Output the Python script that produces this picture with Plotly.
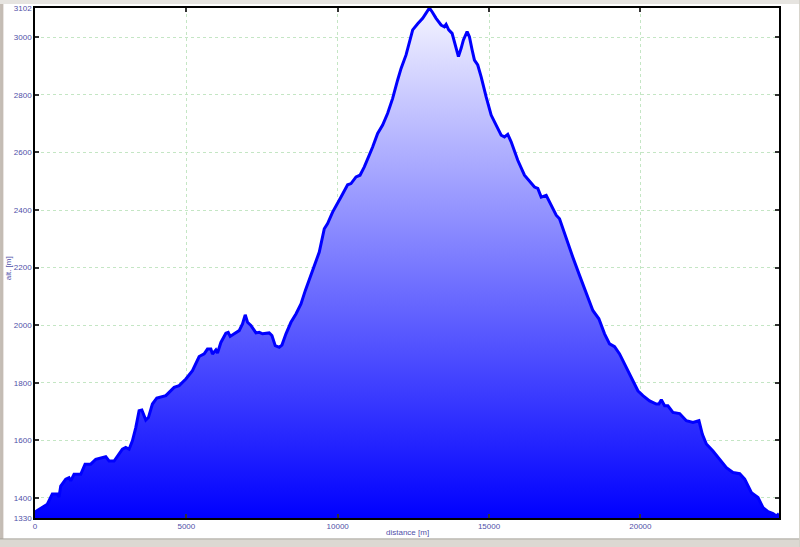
import plotly.graph_objects as go

# Elevation profile data (distance in m, altitude in m)
dist = [0, 241, 407, 572, 737, 794, 850, 1015, 1124, 1181, 1290, 1511, 1654, 1842, 2007,
        2338, 2447, 2613, 2778, 2887, 2999, 3109, 3218, 3330, 3439, 3529, 3661, 3747, 3879,
        4025, 4322, 4597, 4762, 4984, 5202, 5423, 5589, 5698, 5810, 5863, 5976, 6029, 6141,
        6306, 6383, 6449, 6581, 6746, 6855, 6945, 7021, 7133, 7299, 7408, 7517, 7738, 7828,
        7937, 8069, 8158, 8291, 8456, 8621, 8787, 8929, 9160, 9392, 9557, 9667, 9832, 9944,
        10110, 10328, 10440, 10606, 10738, 10880, 11045, 11155, 11320, 11485, 11651, 11816,
        11981, 12094, 12259, 12368, 12478, 12643, 12808, 12920, 13030, 13119, 13251, 13417,
        13526, 13582, 13668, 13780, 13889, 13989, 14078, 14154, 14276, 14352, 14442, 14518,
        14627, 14740, 14905, 15070, 15235, 15401, 15510, 15619, 15731, 15950, 16171, 16337,
        16502, 16611, 16724, 16889, 17054, 17220, 17329, 17438, 17603, 17769, 17990, 18212,
        18430, 18629, 18817, 18982, 19148, 19313, 19535, 19753, 19918, 20084, 20305, 20526,
        20612, 20692, 20801, 20910, 21076, 21297, 21519, 21737, 21935, 22048, 22180, 22398,
        22620, 22842, 23060, 23282, 23447, 23669, 23887, 24053, 24218, 24383, 24495, 24580]
alt = [1351, 1368, 1378, 1413, 1413, 1403, 1441, 1465, 1470, 1459, 1482, 1482, 1517, 1517, 1534,
       1543, 1528, 1528, 1552, 1569, 1575, 1569, 1598, 1644, 1703, 1705, 1670, 1679, 1726,
       1747, 1755, 1784, 1790, 1813, 1842, 1891, 1900, 1917, 1917, 1900, 1914, 1903, 1940,
       1972, 1975, 1961, 1970, 1981, 2004, 2036, 2010, 1999, 1973, 1975, 1970, 1973, 1964,
       1929, 1923, 1931, 1970, 2010, 2039, 2074, 2120, 2190, 2254, 2335, 2353, 2393, 2416,
       2445, 2488, 2492, 2515, 2521, 2550, 2590, 2619, 2666, 2695, 2736, 2788,
       2852, 2892, 2939, 2979, 3026, 3047, 3066, 3084, 3102, 3089, 3066, 3043,
       3037, 3045, 3026, 3014, 2973, 2933, 2962, 2991, 3020, 3002, 2956, 2921,
       2904, 2863, 2793, 2730, 2695, 2660, 2654, 2663, 2637, 2573, 2521, 2500,
       2480, 2475, 2445, 2451, 2416, 2382, 2370, 2335, 2283, 2236, 2173, 2109,
       2051, 2022, 1970, 1935, 1925, 1900, 1853, 1807, 1772, 1755, 1737, 1726,
       1726, 1741, 1720, 1720, 1697, 1693, 1668, 1662, 1668, 1621, 1587, 1563,
       1534, 1505, 1488, 1484, 1465, 1418, 1401, 1366, 1352, 1345, 1337, 1345]

x_ticks = [0, 5000, 10000, 15000, 20000]
y_ticks = [1330, 1400, 1600, 1800, 2000, 2200, 2400, 2600, 2800, 3000, 3102]
y_min, y_max = 1330, 3102
x_max = 24580

fig = go.Figure()
fig.add_trace(go.Scatter(
    x=dist, y=alt, mode="lines",
    line=dict(color="#0000ff", width=3),
    fill="tozeroy",
    fillgradient=dict(type="vertical", start=y_min, stop=y_max,
                      colorscale=[[0, "#0000ff"], [1, "#f4f4ff"]]),
    hoverinfo="skip", showlegend=False,
))

label_color = "#5050a8"
tick_font = dict(family="Liberation Sans, Arial, sans-serif", size=8, color=label_color)
axis_common = dict(
    showline=True, linecolor="black", linewidth=1.5, mirror="allticks",
    ticks="inside", ticklen=4, tickcolor="#333333", tickwidth=1.5,
    showgrid=True, gridcolor="#c4e6c4", griddash="dot", gridwidth=1,
    zeroline=False, tickfont=tick_font, automargin=False,
)
fig.update_xaxes(range=[0, x_max], tickvals=x_ticks, ticktext=[str(v) for v in x_ticks],
                 **axis_common)
fig.update_yaxes(range=[y_min, y_max], tickvals=y_ticks, ticktext=[str(v) for v in y_ticks],
                 **axis_common)

fig.update_layout(
    width=800, height=547,
    margin=dict(l=35, r=21, t=8, b=29),
    paper_bgcolor="white", plot_bgcolor="white",
    font=tick_font,
    annotations=[
        dict(text="distance [m]", xref="paper", yref="paper", x=0.5, y=-0.028,
             xanchor="center", yanchor="middle", showarrow=False,
             font=dict(family="Liberation Sans, Arial, sans-serif", size=8, color=label_color)),
        dict(text="alt. [m]", xref="paper", yref="paper", x=-0.036, y=0.49,
             xanchor="center", yanchor="middle", showarrow=False, textangle=-90,
             font=dict(family="Liberation Sans, Arial, sans-serif", size=8, color=label_color)),
    ],
    shapes=[
        dict(type="rect", xref="paper", yref="paper", x0=-0.047, x1=-0.0425, y0=-0.06, y1=1.1,
             line_width=0, fillcolor="#c4bcb4", layer="below"),
        dict(type="rect", xref="paper", yref="paper", x0=-0.05, x1=1.05, y0=1.008, y1=1.1,
             line_width=0, fillcolor="#e6e4e0", layer="below"),
        dict(type="rect", xref="paper", yref="paper", x0=-0.05, x1=1.05, y0=-0.06, y1=-0.041,
             line_width=0, fillcolor="#dcd8d2", layer="below"),
        dict(type="line", xref="paper", yref="paper", x0=-0.05, x1=1.05, y0=-0.041, y1=-0.041,
             line=dict(color="#a8a49c", width=1), layer="below"),
        dict(type="rect", xref="paper", yref="paper", x0=1.027, x1=1.035, y0=-0.06, y1=1.1,
             line_width=0, fillcolor="#d4d0c8", layer="below"),
    ],
)

fig.write_html("out.html",
               config={"displayModeBar": False},
               post_script="document.body.style.margin='0';document.body.style.padding='0';")
